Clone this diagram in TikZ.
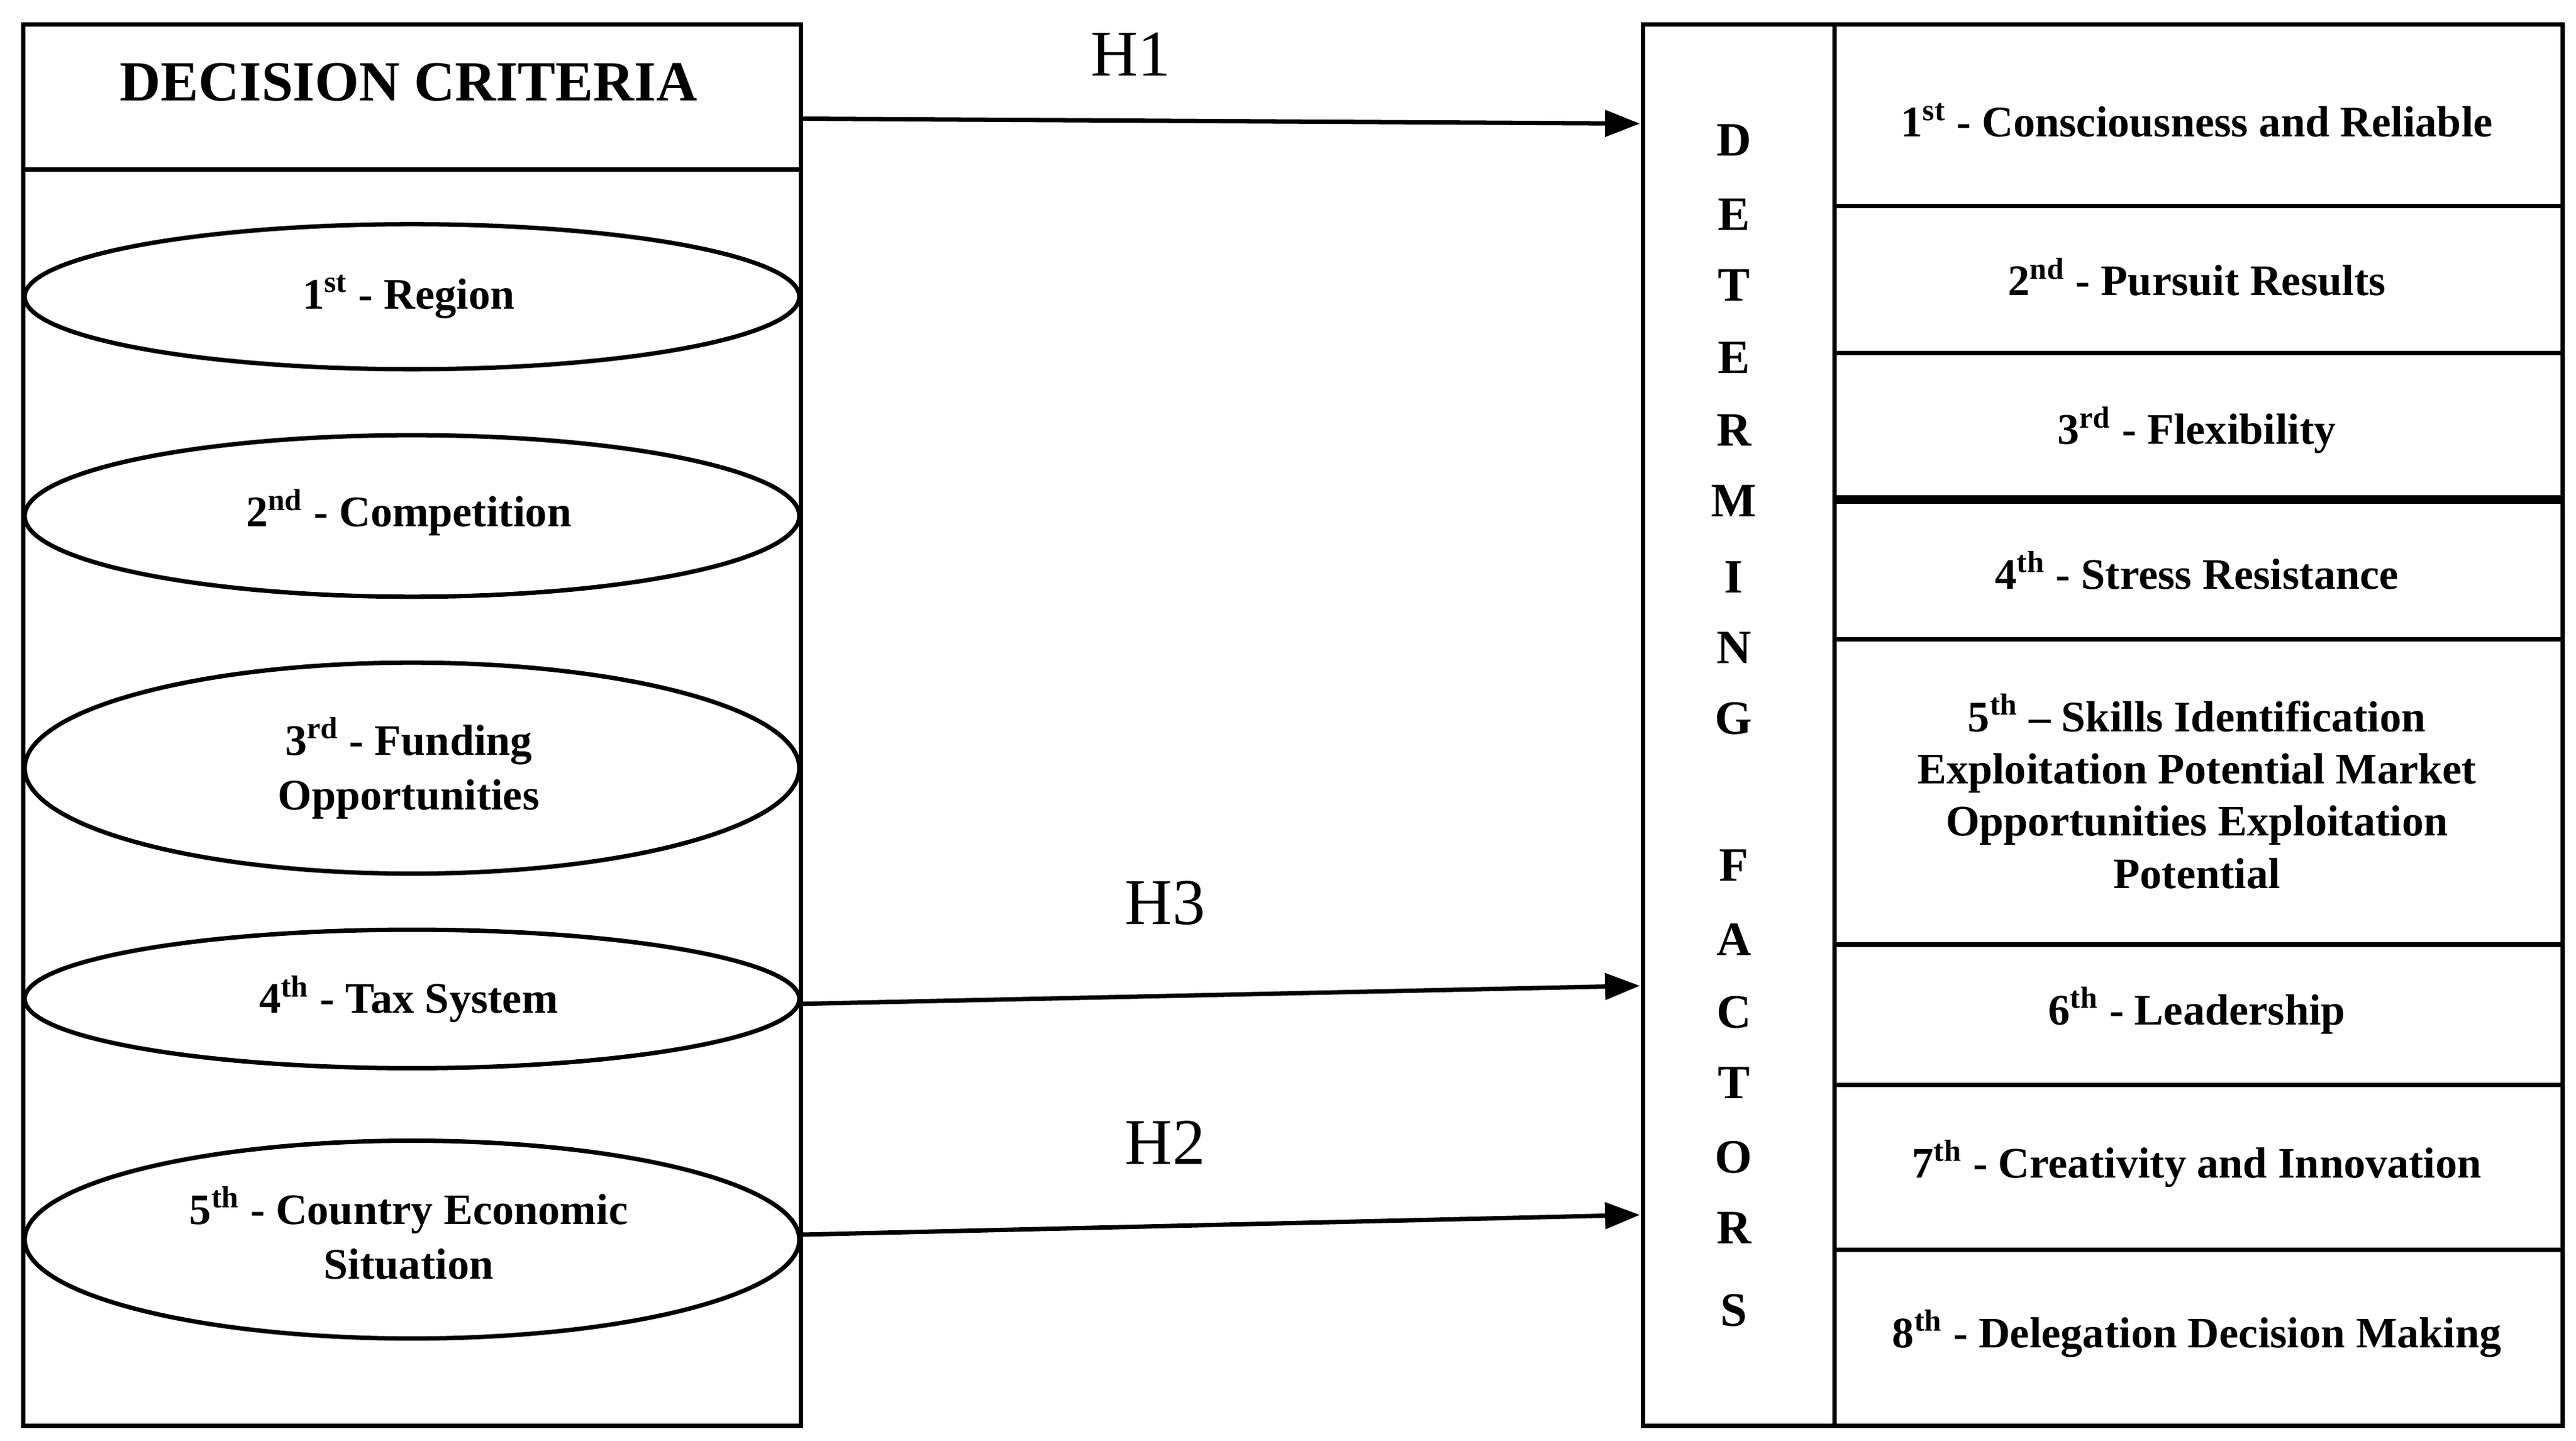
\documentclass[tikz,border=0pt]{standalone}
\usepackage{fontspec}
\setmainfont{Liberation Serif}
\usetikzlibrary{arrows.meta}
\begin{document}
\begin{tikzpicture}[x=0.0266cm,y=-0.0266cm,
  box/.style={draw,line width=2pt},
  lbl/.style={font=\bfseries\fontsize{20}{25}\selectfont,align=center},
  ell/.style={draw,line width=2pt},
  arr/.style={line width=2pt,-{Triangle[length=16pt,width=12pt]}},
  hl/.style={font=\fontsize{30}{34}\selectfont},
  vl/.style={font=\bfseries\fontsize{22}{26}\selectfont}]
\useasboundingbox (0,0) rectangle (1563,874);
% left
\draw[box] (14,15) rectangle (486,865);
\draw[box] (14,103) -- (486,103);
\node[font=\bfseries\fontsize{26}{30}\selectfont] (dc) at (248,50) {DECISION CRITERIA};
\coordinate (dcr) at (486,72);
\draw[ell] (250,180) ellipse (235 and 44); \node[lbl] (e1) at (248,180) {1\textsuperscript{st} - Region};
\draw[ell] (250,313) ellipse (235 and 49); \node[lbl] (e2) at (248,311) {2\textsuperscript{nd} - Competition};
\draw[ell] (250,466) ellipse (235 and 64); \node[lbl] (e3) at (248,466) {3\textsuperscript{rd} - Funding\\Opportunities};
\draw[ell] (250,606) ellipse (235 and 42); \node[lbl] (e4) at (248,606) {4\textsuperscript{th} - Tax System};
\draw[ell] (250,752) ellipse (235 and 60); \node[lbl] (e5) at (248,748) {5\textsuperscript{th} - Country Economic\\Situation};
% right
\draw[box] (997,15) rectangle (1555,865);
\draw[box] (1113,15) -- (1113,865);
\foreach \yy in {125,214,388,573,658,758} \draw[box] (1113,\yy) -- (1555,\yy);
\draw[line width=4pt] (1113,303) -- (1555,303);
\foreach \ch/\yy in {D/85,E/130,T/173,E/217,R/261,M/304,I/350,N/393,G/436,F/525,A/570,C/614,T/657,O/702,R/745,S/795}
  \node[vl] at (1052,\yy) {\ch};
\node[lbl] (r1) at (1333,73) {1\textsuperscript{st} - Consciousness and Reliable};
\node[lbl] (r2) at (1333,168) {2\textsuperscript{nd} - Pursuit Results};
\node[lbl] (r3) at (1333,261) {3\textsuperscript{rd} - Flexibility};
\node[lbl] (r4) at (1333,346) {4\textsuperscript{th} - Stress Resistance};
\node[lbl,font=\bfseries\fontsize{20}{24}\selectfont] (r5) at (1333,480) {5\textsuperscript{th} -- Skills Identification\\Exploitation Potential Market\\Opportunities Exploitation\\Potential};
\node[lbl] (r6) at (1333,613) {6\textsuperscript{th} - Leadership};
\node[lbl] (r7) at (1333,706) {7\textsuperscript{th} - Creativity and Innovation};
\node[lbl] (r8) at (1333,809) {8\textsuperscript{th} - Delegation Decision Making};
\coordinate (t1) at (995,75);
\coordinate (t3) at (995,598);
\coordinate (t2) at (995,737);
\coordinate (s3) at (486,609);
\coordinate (s2) at (486,749);
\draw[arr] (dcr) -- (t1);
\draw[arr] (s3) -- (t3);
\draw[arr] (s2) -- (t2);
\node[hl] (h1) at (686,33) {H1};
\node[hl] (h3) at (707,548) {H3};
\node[hl] (h2) at (707,693) {H2};
\end{tikzpicture}
\end{document}
